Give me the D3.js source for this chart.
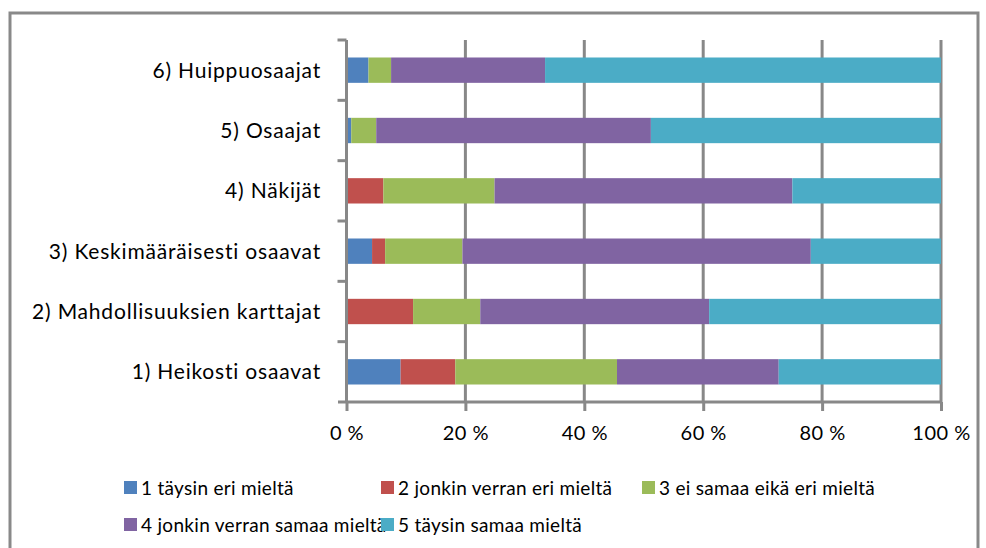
<!DOCTYPE html>
<html>
<head>
<meta charset="utf-8">
<script src="https://cdn.jsdelivr.net/npm/d3@7"></script>
<style>
  body { margin: 0; background: #fff; }
  text { font-family: Lato, "Open Sans", sans-serif; fill: #000; }
</style>
</head>
<body>
<script>
// categories bottom -> top
var categories = ["1) Heikosti osaavat", "2) Mahdollisuuksien karttajat", "3) Keskimääräisesti osaavat", "4) Näkijät", "5) Osaajat", "6) Huippuosaajat"];
var seriesNames = ["1 täysin eri mieltä", "2 jonkin verran eri mieltä", "3 ei samaa eikä eri mieltä", "4 jonkin verran samaa mieltä", "5 täysin samaa mieltä"];
var s1 = [9.1, 0, 4.3, 0, 0.8, 3.7];
var s2 = [9.2, 11.2, 2.2, 6.2, 0, 0];
var s3 = [27.2, 11.3, 13.0, 18.7, 4.2, 3.8];
var s4 = [27.2, 38.5, 58.6, 50.1, 46.2, 25.9];
var s5 = [27.3, 39.0, 21.9, 25.0, 48.8, 66.6];
var xTicks = [0, 20, 40, 60, 80, 100];
var colors = ["#4F81BD", "#C0504D", "#9BBB59", "#8064A2", "#4BACC6"];

var allSeries = [s1, s2, s3, s4, s5];
var rows = categories.map(function (c, i) {
  var r = { cat: c };
  seriesNames.forEach(function (k, j) { r[k] = allSeries[j][i]; });
  return r;
});

var W = 986, H = 548;
var svg = d3.select("body").append("svg").attr("width", W).attr("height", H);

// outer frame
svg.append("rect").attr("x", 10).attr("y", 13).attr("width", 968).attr("height", 600)
  .attr("fill", "none").attr("stroke", "#898989").attr("stroke-width", 3);

var pLeft = 346.5, pRight = 941, pTop = 40, pBottom = 402;
var x = d3.scaleLinear().domain([0, 100]).range([pLeft, pRight]);
var y = d3.scaleBand().domain(categories.slice().reverse()).range([pTop, pBottom])
  .paddingInner(0.58).paddingOuter(0.29);

// gridlines
svg.append("g").selectAll("line").data(xTicks.slice(1)).enter().append("line")
  .attr("x1", function (d) { return x(d); }).attr("x2", function (d) { return x(d); })
  .attr("y1", pTop).attr("y2", pBottom)
  .attr("stroke", "#888").attr("stroke-width", 3);

// bars
var stack = d3.stack().keys(seriesNames)(rows);
svg.append("g").selectAll("g").data(stack).enter().append("g")
  .attr("fill", function (d, i) { return colors[i]; })
  .selectAll("rect").data(function (d) { return d; }).enter().append("rect")
  .attr("x", function (d) { return x(d[0]); })
  .attr("width", function (d) { return x(d[1]) - x(d[0]); })
  .attr("y", function (d) { return y(d.data.cat); })
  .attr("height", y.bandwidth());

// x axis
var xAxis = svg.append("g").attr("transform", "translate(0," + pBottom + ")")
  .call(d3.axisBottom(x).tickValues(xTicks).tickSize(9).tickPadding(15)
    .tickFormat(function (d) { return d + " %"; }));
xAxis.select(".domain").attr("stroke", "#888").attr("stroke-width", 3).attr("d", "M338,0H" + pRight);
xAxis.selectAll(".tick line").attr("stroke", "#888").attr("stroke-width", 3);
xAxis.selectAll(".tick text").attr("font-size", 20).attr("font-family", "Lato, sans-serif")
  .attr("fill", "#000").attr("letter-spacing", 0.5);

// y axis line with ticks at band boundaries
var yAxis = svg.append("g");
yAxis.append("line").attr("x1", pLeft).attr("x2", pLeft).attr("y1", pTop).attr("y2", pBottom)
  .attr("stroke", "#888").attr("stroke-width", 3);
var bounds = y.domain().map(function (c) { return y(c) + y.bandwidth() / 2 - y.step() / 2; });
yAxis.selectAll(".yt").data(bounds).enter().append("line")
  .attr("x1", pLeft - 9).attr("x2", pLeft).attr("y1", function (d) { return d; }).attr("y2", function (d) { return d; })
  .attr("stroke", "#888").attr("stroke-width", 3);

// category labels
svg.append("g").selectAll("text").data(categories).enter().append("text")
  .attr("x", 321).attr("y", function (d) { return y(d) + y.bandwidth() / 2; })
  .attr("dy", "0.35em").attr("text-anchor", "end").attr("font-size", 21)
  .attr("letter-spacing", 0.8)
  .text(function (d) { return d; });

// legend
var legPos = [[124, 488], [381, 488], [642, 488], [124, 525], [381, 525]];
var leg = svg.append("g").selectAll("g").data(seriesNames).enter().append("g")
  .attr("transform", function (d, i) { return "translate(" + legPos[i][0] + "," + legPos[i][1] + ")"; });
leg.append("rect").attr("x", 0).attr("y", -7).attr("width", 13).attr("height", 13)
  .attr("fill", function (d, i) { return colors[i]; });
leg.append("text").attr("x", 17).attr("y", 0).attr("dy", "0.35em").attr("font-size", 19)
  .attr("letter-spacing", 0.3)
  .text(function (d) { return d; });
</script>
</body>
</html>
